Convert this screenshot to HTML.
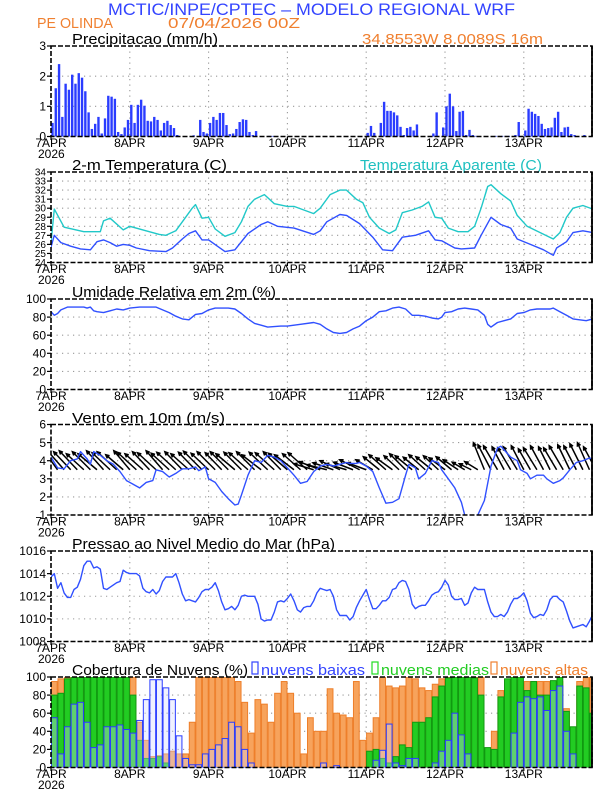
<!DOCTYPE html>
<html><head><meta charset="utf-8">
<style>
html,body{margin:0;padding:0;background:#fff;}
svg{display:block;font-family:"Liberation Sans",sans-serif;}
</style></head>
<body>
<svg id="chart" width="612" height="792" viewBox="0 0 612 792" xmlns="http://www.w3.org/2000/svg">
<text x="108" y="15" font-size="17" fill="#3344ff" textLength="407" lengthAdjust="spacingAndGlyphs">MCTIC/INPE/CPTEC – MODELO REGIONAL WRF</text>
<text x="37" y="28" font-size="15" fill="#f08030" textLength="76" lengthAdjust="spacingAndGlyphs">PE OLINDA</text>
<text x="168" y="28" font-size="15" fill="#f08030" textLength="132" lengthAdjust="spacingAndGlyphs">07/04/2026 00Z</text>
<text x="362" y="44" font-size="15" fill="#f08030" textLength="181" lengthAdjust="spacingAndGlyphs">34.8553W 8.0089S 16m</text>
<text x="72" y="44" font-size="15" fill="#000" textLength="146" lengthAdjust="spacingAndGlyphs">Precipitacao (mm/h)</text>
<text x="72" y="170" font-size="15" fill="#000" textLength="155" lengthAdjust="spacingAndGlyphs">2-m Temperatura (C)</text>
<text x="360" y="170" font-size="15" fill="#20c0c0" textLength="182" lengthAdjust="spacingAndGlyphs">Temperatura Aparente (C)</text>
<text x="72" y="297" font-size="15" fill="#000" textLength="204" lengthAdjust="spacingAndGlyphs">Umidade Relativa em 2m (%)</text>
<text x="72" y="423" font-size="15" fill="#000" textLength="153" lengthAdjust="spacingAndGlyphs">Vento em 10m (m/s)</text>
<text x="72" y="549" font-size="15" fill="#000" textLength="263" lengthAdjust="spacingAndGlyphs">Pressao ao Nivel Medio do Mar (hPa)</text>
<text x="72" y="675" font-size="15" fill="#000" textLength="176" lengthAdjust="spacingAndGlyphs">Cobertura de Nuvens (%)</text>
<g>
<rect x="252" y="662" width="6" height="12" fill="none" stroke="#3344ff" stroke-width="1.2"/>
<text x="261" y="675" font-size="15" fill="#3344ff" textLength="104" lengthAdjust="spacingAndGlyphs">nuvens baixas</text>
<rect x="372" y="662" width="6" height="12" fill="none" stroke="#22dd22" stroke-width="1.2"/>
<text x="381" y="675" font-size="15" fill="#22cc22" textLength="108" lengthAdjust="spacingAndGlyphs">nuvens medias</text>
<rect x="491" y="662" width="6" height="12" fill="none" stroke="#f08030" stroke-width="1.2"/>
<text x="500" y="675" font-size="15" fill="#f08030" textLength="88" lengthAdjust="spacingAndGlyphs">nuvens altas</text>
</g>
</svg>
<script>
// ---- data ----
const dayLabels = ["7APR","8APR","9APR","10APR","11APR","12APR","13APR"];
const precip = [
.45,1.6,2.4,.65,1.75,1.55,2.05,1.75,2.1,1.95,
1.5,.8,.25,.42,.65,.1,.6,1.35,1.32,1.25,
.15,.08,.3,.55,1.05,.45,1.05,1.22,1.02,.52,
.5,.65,.55,.2,.45,.52,.38,.28,.05,0,
0,0,0,.04,0,.55,.15,.1,.45,.65,
.55,.78,.78,.38,.08,.1,.25,.48,.57,.55,
.15,.05,.18,0,0,0,.02,.02,0,0,
0,0,0,0,0,0,0,0,0,0,
0,0,0,0,0,0,0,0,0,0,
0,0,0,0,0,0,.12,.35,.12,0,
.45,1.15,.85,.85,.8,.7,.32,.05,.28,.32,
.2,.4,0,0,0,0,.1,.8,0,.3,
1.0,1.42,1.0,.18,.82,.85,.05,.22,.05,.02,
0,0,0,0,0,.02,.02,.02,.02,.02,
0,.05,.48,.02,.2,.92,.82,.75,.68,.42,
.25,.28,.3,.62,.82,.15,.3,.32,.08,.05,
0,0,.05,0,0,.05,.62];
const precipTicks = [0,1,2,3];

const tempHours = [0,1,3,6,9,12,14,16,18,20,22,24,26,30,35,37,40,42,44,46,48,53,56,60,64,66,69,74,80,82,84,88,90,94,98,101,104,107,111,115,117,119,123,125,129,131,134,137,140,142,146,150,153,154,157,159,162,165,166.5];
const tempVals = [25.7,27.0,26.2,25.8,25.5,25.4,26.3,26.5,26.2,25.8,26.0,25.9,25.6,25.3,25.2,25.6,26.6,27.2,27.5,26.5,26.5,25.2,25.4,27.2,28.2,28.5,28.0,27.8,27.1,27.5,28.5,29.3,29.2,28.3,26.8,25.4,25.3,26.8,27.0,27.5,26.5,26.4,25.6,25.5,25.6,27.0,29.0,28.2,27.8,26.6,26.0,25.4,24.8,25.6,26.3,27.3,27.5,27.3,26.5];
const appHours = [0,1,4,10,15,16,18,22,24,28,33,35,38,41,43,44,46,48,50,53,56,58,60,62,65,68,72,74,80,82,85,88,90,93,95,97,100,103,105,107,110,113,115,117,119,121,124,127,129,131,133,134,137,140,142,145,149,153,155,157,159,162,165,166.5];
const appVals = [26.2,29.9,27.9,27.4,27.4,28.6,28.9,27.6,28.0,27.6,27.1,27.0,27.5,29.0,30.0,30.4,28.9,29.0,27.7,26.9,27.3,28.5,30.2,31.0,31.5,30.5,30.2,30.2,29.4,30.0,31.5,32.0,32.0,31.0,30.6,29.0,27.8,27.2,27.6,29.5,29.8,30.2,30.7,29.0,28.9,27.8,27.4,27.4,28.0,30.0,32.4,32.6,31.6,30.8,29.2,28.0,27.3,26.6,27.3,29.0,30.0,30.3,29.9,29.0];
const tempTicks = [24,25,26,27,28,29,30,31,32,33,34];

const rhHours = [0,1,2,3,5,8,10,11,12,13,14,16,18,20,22,24,27,32,34,36,38,40,42,44,46,48,50,54,56,58,60,62,64,66,70,72,76,80,82,84,86,88,90,92,94,96,98,100,102,104,106,108,110,112,114,116,118,119,120,122,124,126,128,130,132,133,134,136,138,140,142,144,146,148,152,153,155,157,159,161,163,165,166.5];
const rhVals = [86,82,84,88,91,91,91,90,91,87,86,85,87,89,88,90,91,91,88,85,81,78,77,83,84,88,90,90,89,84,78,73,71,69,70,70,72,74,72,67,63,62,63,67,70,76,80,86,87,90,91,89,82,82,81,79,78,80,85,86,89,90,89,88,82,72,69,74,76,78,84,85,88,89,89,90,86,82,78,77,76,78,83];
const rhTicks = [0,20,40,60,80,100];

const windHours = [0,2,4,6,8,9,11,12,13,15,17,19,21,23,25,27,29,31,32,34,36,38,40,42,44,45,47,48,50,52,54,56,57,58,60,62,64,66,68,70,72,74,76,78,80,82,84,86,88,90,91,93,94,96,98,100,102,104,106,108,109,111,112,114,116,118,119,121,123,125,126,128,129,130,132,134,136,137,139,140,142,143,145,146,148,150,151,153,155,156,158,160,162,164,166.5];
const windSpeed = [4.2,3.6,3.55,4.0,4.1,4.5,4.1,3.8,4.5,4.3,4.0,3.8,3.4,2.9,2.7,2.5,2.8,2.9,3.5,3.4,3.1,3.3,3.55,3.55,3.65,3.45,3.65,3.0,2.8,2.3,1.9,1.55,1.6,2.1,3.2,4.0,3.9,4.3,4.2,4.0,3.6,3.2,2.75,2.85,3.4,3.7,3.8,3.7,3.8,3.9,3.85,3.85,3.9,3.7,3.4,2.5,1.65,1.7,1.9,3.2,3.8,3.6,3.0,3.3,4.0,3.9,3.5,3.0,2.5,1.7,1.0,0.6,0.9,1.0,1.8,3.7,4.7,4.8,4.4,4.2,4.0,3.5,3.3,3.0,3.2,3.2,3.0,2.75,2.9,3.05,3.5,3.9,4.0,4.15,4.0];
const windU = [-3,-3.2,-3.5,-3.4,-3.6,-3.5,-3.6,-3.8,-3.4,-3.6,-3.9,-3.5,-3.2,-3.8,-3.6,-3.4,-3.7,-3.3,-3.6,-3.8,-3.5,-3.6,-3.4,-3.7,-3.5,-3.6,-3.3,-3.6,-3.8,-3.5,-3.8,-3.6,-3.9,-3.7,-3.8,-3.5,-3.8,-3.9,-3.6,-3.8,-4,-4.2,-4,-4.1,-4,-4.2,-3.9,-4,-3.8,-3.4,-3.2,-3.4,-3.3,-3.0,-3.2,-3.4,-3.1,-3.3,-3.2,-3.0,-3.2,-3.1,-3.0,-2.5,-2.4,-2.6,-2.2,-2.6,-2.8,-2.4,-2.6,-2.8,-2.5,-2.4,-2.7,-2.6,-2.3,-2.6,-2.8,-2.4,-2.5,-2.6,-2.4,-2.5];
const windV = [4.6,4.4,4.0,3.6,3.8,3.2,3.6,3.2,3.8,3.4,3.6,3.0,3.8,3.5,3.2,3.6,3.4,3.8,3.3,3.5,3.6,3.2,3.5,3.7,3.3,3.6,3.4,3.6,3.2,3.5,3.4,3.6,3.0,3.5,3.4,3.6,3.3,3.0,3.2,3.4,1.2,1.6,1.0,1.4,1.8,1.2,1.5,2.0,1.4,2.0,2.6,3.0,2.4,2.8,3.2,2.8,2.5,3.0,2.6,2.8,2.4,2.6,2.0,1.5,1.2,1.6,5.4,5.0,4.8,4.6,4.4,4.6,4.8,4.2,4.4,4.8,4.6,4.4,4.8,5.0,4.8,5.2,5.4,4.6];
const windTicks = [1,2,3,4,5,6];

const pres = [
1013.7,1014.0,1012.7,1013.2,1012.3,1011.9,1011.9,1012.6,1012.8,1013.5,
1014.7,1015.1,1015.1,1014.5,1014.6,1014.4,1012.7,1012.6,1012.8,1013.0,
1013.2,1013.3,1014.3,1014.1,1014.0,1014.0,1014.0,1013.8,1012.7,1012.4,
1012.3,1012.6,1012.2,1012.5,1013.3,1013.7,1013.7,1013.7,1014.0,1013.2,
1012.2,1011.6,1011.7,1011.6,1011.5,1011.9,1012.4,1012.6,1012.6,1012.8,
1013.2,1012.5,1011.5,1010.8,1010.9,1011.1,1010.8,1011.2,1012.0,1012.1,
1012.0,1012.0,1012.0,1011.3,1010.0,1009.8,1009.9,1009.9,1010.6,1011.5,
1011.6,1011.5,1011.8,1012.2,1011.6,1010.8,1010.6,1011.0,1011.1,1011.1,
1011.6,1012.3,1012.7,1012.6,1012.5,1012.6,1012.0,1010.8,1010.3,1010.3,
1010.3,1009.9,1010.2,1011.0,1011.6,1012.1,1012.6,1011.7,1010.9,1010.9,
1011.2,1011.6,1011.6,1011.9,1012.6,1012.7,1013.2,1013.4,1013.3,1012.6,
1011.3,1010.9,1011.1,1011.2,1011.2,1011.6,1012.1,1012.3,1012.4,1012.8,
1013.4,1013.0,1012.0,1011.7,1011.7,1011.8,1011.2,1011.4,1012.3,1012.8,
1012.6,1012.6,1012.6,1011.5,1010.6,1010.2,1010.2,1010.4,1010.2,1010.6,
1011.3,1011.8,1011.8,1012.0,1012.3,1011.6,1010.5,1010.1,1010.2,1010.4,
1010.3,1010.8,1011.7,1012.0,1012.0,1011.7,1011.5,1010.7,1009.8,1009.2,
1009.3,1009.4,1009.5,1009.3,1009.8,1010.4,1010.6];
const presTicks = [1008,1010,1012,1014,1016];

const cloudLow = [55,15,45,70,72,50,22,25,45,45,47,42,38,52,75,97,97,88,75,35,10,3,3,15,20,25,32,50,45,20,5,0,0,0,0,0,0,0,0,0,0,5,0,2,0,0,0,0,0,8,19,48,5,2,10,10,0,0,5,18,30,60,36,15,0,0,0,0,0,0,38,72,78,76,78,63,85,90,40,15,0,0,0,8];
const cloudMid = [80,82,98,100,100,100,100,100,100,100,100,100,80,30,10,10,12,5,0,0,0,0,0,0,0,0,0,0,0,0,0,0,0,0,0,0,0,0,0,0,0,0,0,0,0,0,0,0,18,20,10,5,12,25,22,50,50,55,78,90,99,100,100,100,99,80,22,20,78,98,100,100,85,95,80,80,96,100,62,45,90,88,60,95];
const cloudHigh = [95,98,100,100,100,100,100,100,100,100,100,100,100,50,30,12,13,15,18,15,15,50,100,100,100,100,100,100,95,72,38,75,70,50,82,95,82,60,15,55,40,40,87,60,58,55,95,30,38,55,100,90,88,90,100,98,88,85,92,98,100,100,100,100,100,100,15,40,85,92,98,92,95,95,95,95,95,95,65,35,95,100,100,100];
const cloudTicks = [0,20,40,60,80,100];

// ---- layout ----
const svg = document.getElementById('chart');
const NS = 'http://www.w3.org/2000/svg';
const X0 = 51, X1 = 592, PXH = 78.8/24;
function xh(h){ return X0 + h*PXH; }
function mk(tag, attrs, parent){
  const e = document.createElementNS(NS, tag);
  for (const k in attrs) e.setAttribute(k, attrs[k]);
  (parent||svg).appendChild(e);
  return e;
}
function yScale(top, min, max){ const H=90.5; return v => top + H - (v-min)/(max-min)*H; }
let clipCount = 0;
function panel(name, top, min, max, ticks, fs){
  fs = fs || 12;
  const g = mk('g', {});
  
  
  const y = yScale(top, min, max);
  const grid = mk('g', {stroke:'#9a9a9a','stroke-width':1.1,'stroke-dasharray':'1.2,4.3'}, g);
  
  
  ticks.forEach(t => { if (t>min && t<max) mk('line',{x1:X0,x2:X1,y1:y(t),y2:y(t)},grid); });
  for (let d=1; d<7; d++) mk('line',{x1:xh(d*24),x2:xh(d*24),y1:top,y2:top+90.5},grid);
  ticks.forEach(t => {
    const tx = mk('text',{x:46,y:y(t)+fs*0.35,'font-size':fs,'text-anchor':'end',fill:'#000'},g);
    
    
    tx.textContent = t;
    mk('line',{x1:X0-4,x2:X0,y1:y(t),y2:y(t),stroke:'#000','stroke-width':1.2},g);
  });
  dayLabels.forEach((l,i) => {
    const tx = mk('text',{x:xh(i*24),y:top+101,'font-size':12,'text-anchor':'middle',fill:'#000'},g);
    
    
    tx.textContent = l;
    mk('line',{x1:xh(i*24),x2:xh(i*24),y1:top+90.5,y2:top+94,stroke:'#000','stroke-width':1.2},g);
  });
  const yr = mk('text',{x:38,y:top+112,'font-size':12,fill:'#000'},g);
  
  
  yr.textContent = '2026';
  const id = 'clip' + (clipCount++);
  const cp = mk('clipPath',{id:id},g);
  mk('rect',{x:X0,y:top,width:X1-X0,height:90.5},cp);
  const plot = mk('g',{'clip-path':'url(#'+id+')'},g);
  
  
  return {g, plot, y, top};
}
function frame(p){
  const f = mk('rect',{x:X0,y:p.top,width:X1-X0,height:90.5,fill:'none',stroke:'#000','stroke-width':1.6,'stroke-dasharray':'5,2'},p.g);
  
  
  mk('line',{x1:X1,x2:X1,y1:p.top,y2:p.top+90.5,stroke:'#000','stroke-width':1.8},p.g);
}
function line(p, hours, vals, color, name){
  const d = vals.map((v,i)=>(i?'L':'M')+xh(hours[i]).toFixed(1)+','+p.y(v).toFixed(1)).join('');
  const l = mk('path',{d:d,fill:'none',stroke:color,'stroke-width':1.4,'stroke-linejoin':'round'},p.plot);
  
  
}
function seq(n, step){ return Array.from({length:n},(_,i)=>i*step); }

// Panel 1: precipitation
const p1 = panel('precip', 46, 0, 3, precipTicks);
precip.forEach((v,h) => {
  if (v<=0) return;
  const r = mk('rect',{x:xh(h)+0.3,y:p1.y(v),width:PXH-0.9,height:p1.y(0)-p1.y(v),fill:'#2a3cff'},p1.plot);
  
  
});
frame(p1);

// Panel 2: temperatures
const p2 = panel('temp', 172, 24, 34, tempTicks, 10);
line(p2, appHours, appVals, '#20c8c8', 'apparent-temp-line');
line(p2, tempHours, tempVals, '#3050ff', 'temp-line');
frame(p2);

// Panel 3: humidity
const p3 = panel('humidity', 299, 0, 100, rhTicks);
line(p3, rhHours, rhVals, '#3050ff', 'humidity-line');
frame(p3);

// Panel 4: wind
const p4 = panel('wind', 424.5, 1, 6, windTicks);
const baseY = p4.y(3.5);
windU.forEach((u,k) => {
  const x = xh(k*2), dx = u*5, dy = -windV[k]*5;
  const tx = x+dx, ty = baseY+dy;
  const ang = Math.atan2(dy,dx), hl = 4;
  const a = mk('path',{d:'M'+x+','+baseY+'L'+tx+','+ty+
     'M'+(tx-hl*Math.cos(ang-0.45))+','+(ty-hl*Math.sin(ang-0.45))+'L'+tx+','+ty+'L'+(tx-hl*Math.cos(ang+0.45))+','+(ty-hl*Math.sin(ang+0.45)),
     fill:'none',stroke:'#000','stroke-width':1.5},p4.plot);
  
  
});
line(p4, windHours, windSpeed, '#3050ff', 'wind-speed-line');
frame(p4);

// Panel 5: pressure
const p5 = panel('pressure', 551, 1008, 1016, presTicks);
line(p5, seq(pres.length,1), pres, '#3050ff', 'pressure-line');
frame(p5);

// Panel 6: clouds
const p6 = panel('cloud', 677, 0, 100, cloudTicks);
const bw = 2*PXH - 0.8;
function cloudBars(vals, fill, stroke, name){
  vals.forEach((v,k) => {
    if (v<=0) return;
    const r = mk('rect',{x:xh(k*2)+0.4,y:p6.y(v),width:bw,height:p6.y(0)-p6.y(v),fill:fill,stroke:stroke,'stroke-width':1},p6.plot);
    
    
  });
}
cloudBars(cloudHigh, '#f7a35c', '#ee7f2a', 'cloud-high-bar');
cloudBars(cloudMid, '#22cc22', '#119911', 'cloud-mid-bar');
cloudBars(cloudLow, 'rgba(210,215,255,0.35)', '#2a3cff', 'cloud-low-bar');
frame(p6);
</script>
</body></html>
